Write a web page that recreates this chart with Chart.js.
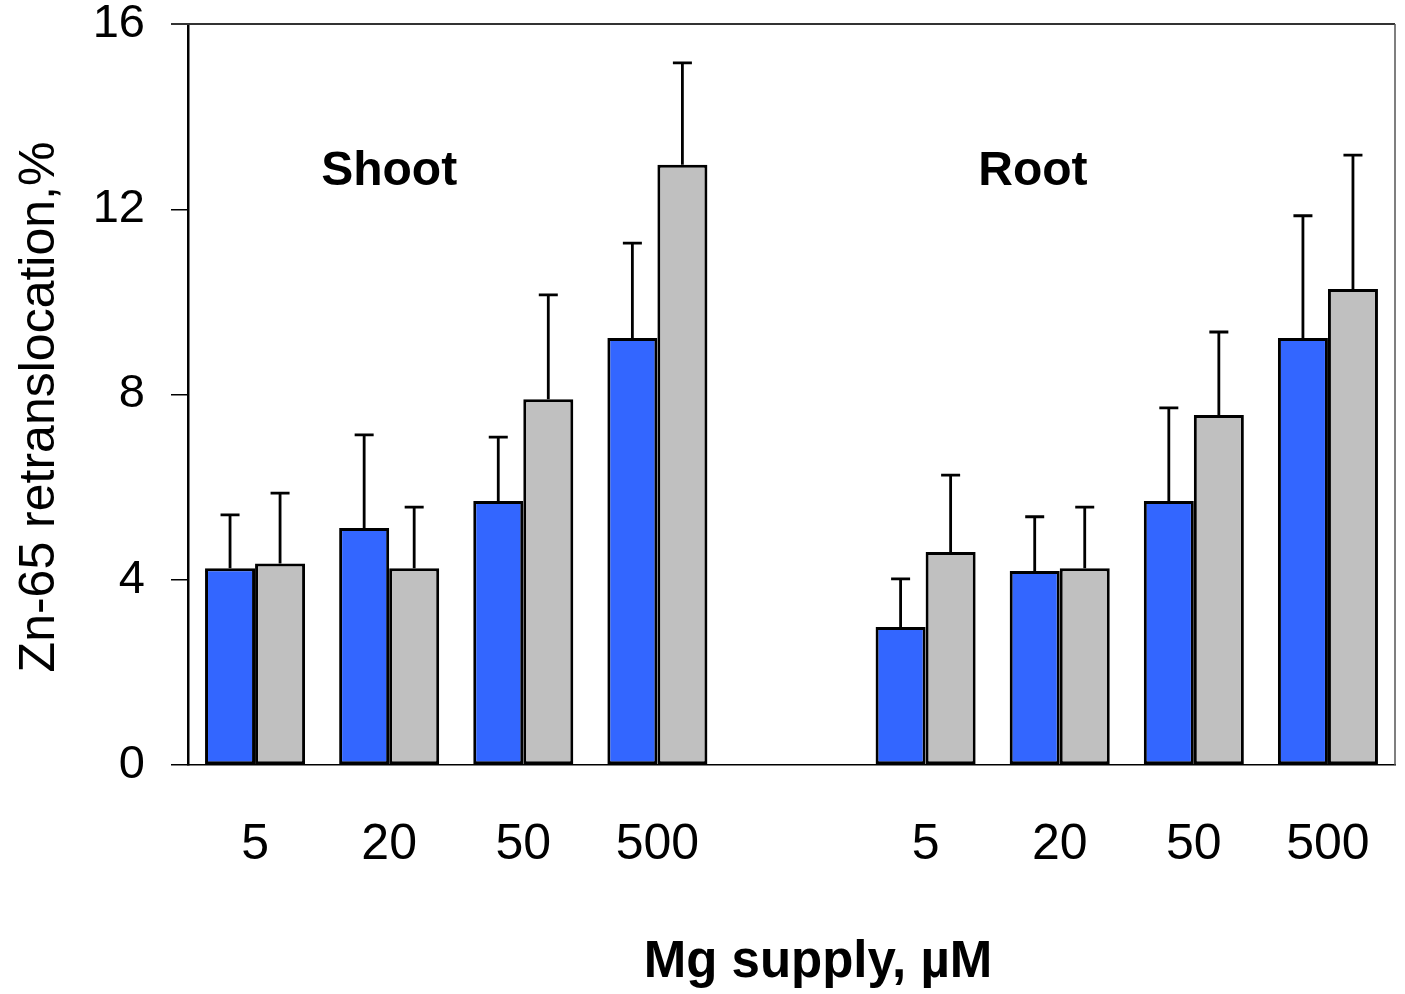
<!DOCTYPE html>
<html>
<head>
<meta charset="utf-8">
<script src="https://cdn.jsdelivr.net/npm/chart.js@4.4.1/dist/chart.umd.min.js"></script>
<style>
html, body { margin: 0; padding: 0; background: #fff; }
#wrap { width: 1405px; height: 994px; }
</style>
</head>
<body>
<div id="wrap"><canvas id="myChart"></canvas></div>
<script>
// Mg supply levels, Shoot group then Root group (empty slot between)
const categories = ['5', '20', '50', '500', '', '5', '20', '50', '500'];
const blueVals = [4.25, 5.12, 5.7, 9.22, null, 2.98, 4.19, 5.7, 9.22];
const blueErr  = [1.15, 2.01, 1.38, 2.05, null, 1.04, 1.17, 2.01, 2.64];
const grayVals = [4.35, 4.25, 7.9, 12.96, null, 4.6, 4.25, 7.56, 10.28];
const grayErr  = [1.52, 1.32, 2.25, 2.2, null, 1.66, 1.32, 1.79, 2.89];
const yTicks = [0, 4, 8, 12, 16];
const groupLabels = [
  { text: 'Shoot', cat: 1, offset: 0, y: 12.8 },
  { text: 'Root', cat: 5, offset: 0.8, y: 12.8 }
];

const FONT = 'Arial, "Liberation Sans", sans-serif';

// upward error bars with a cap
const errorBars = {
  id: 'errorBars',
  afterDatasetsDraw(chart) {
    const ctx = chart.ctx;
    const y = chart.scales.y;
    const errs = [blueErr, grayErr];
    ctx.save();
    ctx.strokeStyle = '#000';
    ctx.lineWidth = 2.8;
    chart.data.datasets.forEach((ds, i) => {
      const meta = chart.getDatasetMeta(i);
      meta.data.forEach((bar, j) => {
        const v = ds.data[j];
        const e = errs[i][j];
        if (v == null || e == null) return;
        const top = y.getPixelForValue(v + e);
        const base = y.getPixelForValue(v);
        ctx.beginPath();
        ctx.moveTo(bar.x, base);
        ctx.lineTo(bar.x, top);
        ctx.moveTo(bar.x - 9.5, top);
        ctx.lineTo(bar.x + 9.5, top);
        ctx.stroke();
      });
    });
    ctx.restore();
  }
};

// frame, group names and axis titles
const extras = {
  id: 'extras',
  afterDraw(chart) {
    const ctx = chart.ctx;
    const a = chart.chartArea;
    const x = chart.scales.x;
    const y = chart.scales.y;
    ctx.save();
    ctx.strokeStyle = '#333';
    ctx.lineWidth = 2;
    ctx.beginPath();
    ctx.moveTo(a.left - 17, a.top);
    ctx.lineTo(a.right, a.top);
    ctx.stroke();
    ctx.lineWidth = 1.5;
    ctx.strokeStyle = '#555';
    ctx.beginPath();
    ctx.moveTo(a.right, a.top);
    ctx.lineTo(a.right, a.bottom);
    ctx.stroke();

    ctx.fillStyle = '#000';
    ctx.textAlign = 'center';
    ctx.textBaseline = 'middle';
    ctx.font = 'bold 48px ' + FONT;
    groupLabels.forEach(g => {
      const px = x.getPixelForValue(g.cat) + g.offset * (x.getPixelForValue(1) - x.getPixelForValue(0));
      ctx.fillText(g.text, px, y.getPixelForValue(g.y));
    });
    ctx.font = 'bold 51px ' + FONT;
    ctx.fillText('Mg supply, µM', 818, 963);

    ctx.translate(40, 407);
    ctx.rotate(-Math.PI / 2);
    ctx.font = '50px ' + FONT;
    ctx.fillText('Zn-65 retranslocation,%', 0, 0);
    ctx.restore();
  }
};

const ctx = document.getElementById('myChart').getContext('2d');
const myChart = new Chart(ctx, {
  type: 'bar',
  data: {
    labels: categories,
    datasets: [{
      label: 'a',
      data: blueVals,
      backgroundColor: '#3366FF',
      borderColor: '#000',
      borderWidth: 3,
      borderSkipped: false,
      categoryPercentage: 0.746,
      barPercentage: 1.0
    }, {
      label: 'b',
      data: grayVals,
      backgroundColor: '#C0C0C0',
      borderColor: '#000',
      borderWidth: 3,
      borderSkipped: false,
      categoryPercentage: 0.746,
      barPercentage: 1.0
    }]
  },
  options: {
    responsive: true,
    maintainAspectRatio: false,
    animation: false,
    layout: { padding: { top: 24, right: 10, left: 0, bottom: 0 } },
    plugins: {
      legend: { display: false },
      tooltip: { enabled: false }
    },
    scales: {
      x: {
        grid: { display: false, drawTicks: false },
        border: { display: true, color: '#000', width: 1.5 },
        ticks: {
          color: '#000',
          font: { family: FONT, size: 50 },
          padding: 50,
          maxRotation: 0,
          autoSkip: false
        },
        afterFit(scale) {
          scale.height = 994 - 765;
          scale.paddingLeft = 0;
          scale.paddingRight = 0;
        }
      },
      y: {
        min: 0,
        max: 16,
        grid: { drawOnChartArea: false, drawTicks: true, tickLength: 17, color: '#000', lineWidth: 1.5 },
        border: { display: true, color: '#000', width: 2.5 },
        afterBuildTicks(scale) { scale.ticks = yTicks.map(v => ({ value: v })); },
        ticks: {
          color: '#000',
          font: { family: FONT, size: 47 },
          padding: 26
        },
        afterFit(scale) {
          scale.width = 188;
          scale.paddingTop = 0;
          scale.paddingBottom = 0;
        }
      }
    }
  },
  plugins: [errorBars, extras]
});
</script>
</body>
</html>
